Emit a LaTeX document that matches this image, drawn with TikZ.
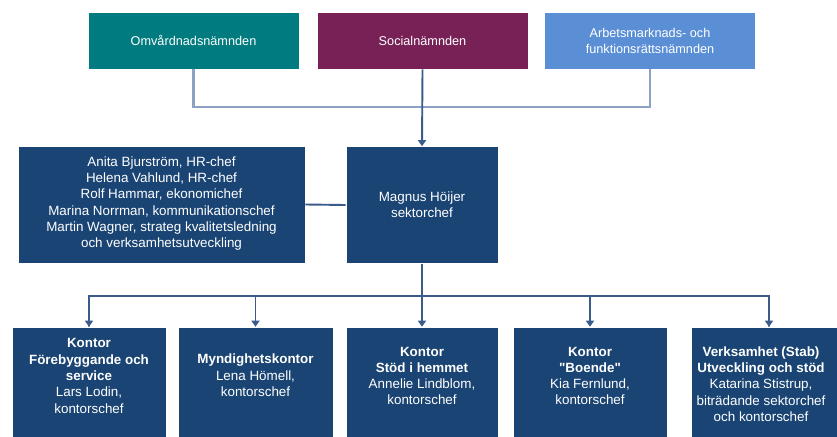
\documentclass[tikz,border=0pt]{standalone}
\usepackage{fontspec}
\setmainfont{Liberation Sans}
\usetikzlibrary{arrows.meta}
\definecolor{teal1}{HTML}{007B80}
\definecolor{purp1}{HTML}{782157}
\definecolor{lblue}{HTML}{5A8FD6}
\definecolor{navy}{HTML}{1A4473}
\definecolor{lndark}{HTML}{3A5C8A}
\definecolor{lnlight}{HTML}{8DA2C2}
\tikzset{
  topbox/.style={draw=white, line width=0.6pt, minimum width=211pt, minimum height=57pt, inner sep=0pt, text=white, align=center, font=\fontsize{12.7}{16}\selectfont},
  navybox/.style={fill=navy, draw=white, line width=0.6pt, inner sep=0pt},
  btxt/.style={text=white, align=center, inner sep=0pt, font=\fontsize{13.4}{16.3}\selectfont},
  conn/.style={draw=lndark, line width=1.9pt},
  connl/.style={draw=lnlight, line width=2.2pt},
  arr/.style={-{Triangle[width=8pt,length=6pt]}},
}
\begin{document}
\begin{tikzpicture}[x=1pt,y=-1pt]
\useasboundingbox[fill=white] (0,0) rectangle (837,436);
% top boxes
\node[topbox, fill=teal1] (om) at (193.5,40.5) {Omvårdnadsnämnden};
\node[topbox, fill=purp1] (soc) at (422.5,40.5) {Socialnämnden};
\node[topbox, fill=lblue] (arb) at (650,40.5) {Arbetsmarknads- och\\funktionsrättsnämnden};
% middle
\node[navybox, minimum width=287pt, minimum height=117pt] (staff) at (161.5,204.5) {};
\node[btxt] (stafft) at (161.5,203.5) {Anita Bjurström, HR-chef\\Helena Vahlund, HR-chef\\Rolf Hammar, ekonomichef\\Marina Norrman, kommunikationschef\\Martin Wagner, strateg kvalitetsledning\\och verksamhetsutveckling};
\node[navybox, minimum width=152pt, minimum height=117pt] (mag) at (422,205) {};
\node[btxt] (magt) at (422,205) {Magnus Höijer\\sektorchef};
% bottom boxes
\node[navybox, minimum width=154pt, minimum height=110pt] (b1) at (89,382) {};
\node[navybox, minimum width=155pt, minimum height=110pt] (b2) at (255.5,382) {};
\node[navybox, minimum width=152pt, minimum height=110pt] (b3) at (422,382) {};
\node[navybox, minimum width=154pt, minimum height=110pt] (b4) at (590,382) {};
\node[navybox, minimum width=156pt, minimum height=110pt] (b5) at (769,382) {};
\node[btxt] (t1) at (89,376) {\textbf{Kontor}\\\textbf{Förebyggande och}\\\textbf{service}\\Lars Lodin,\\kontorschef};
\node[btxt] (t2) at (255.5,375.5) {\textbf{Myndighetskontor}\\Lena Hömell,\\kontorschef};
\node[btxt] (t3) at (422,376) {\textbf{Kontor}\\\textbf{Stöd i hemmet}\\Annelie Lindblom,\\kontorschef};
\node[btxt] (t4) at (590,376) {\textbf{Kontor}\\\textbf{\textquotedbl Boende\textquotedbl}\\Kia Fernlund,\\kontorschef};
\node[btxt] (t5) at (761,384) {\textbf{Verksamhet (Stab)}\\\textbf{Utveckling och stöd}\\Katarina Stistrup,\\biträdande sektorchef\\och kontorschef};
% connectors
\coordinate (jt) at (422.5,107);
\draw[connl] (om.south) |- (jt) -| (arb.south);
\draw[conn, arr] (soc.south) -- (mag.north);
\draw[conn] (staff.east) -- (mag.west);
\coordinate (jb) at (422,296);
\draw[conn] (mag.south) -- (jb);
\draw[connl] (jb) -| (b1.north);
\draw[connl] (jb) -| (b5.north);
\draw[conn, arr] (jb) -| (b1.north);
\draw[conn, arr] (jb) -| (b2.north);
\draw[conn, arr] (jb) -- (b3.north);
\draw[conn, arr] (jb) -| (b4.north);
\draw[conn, arr] (jb) -| (b5.north);
\end{tikzpicture}
\end{document}
